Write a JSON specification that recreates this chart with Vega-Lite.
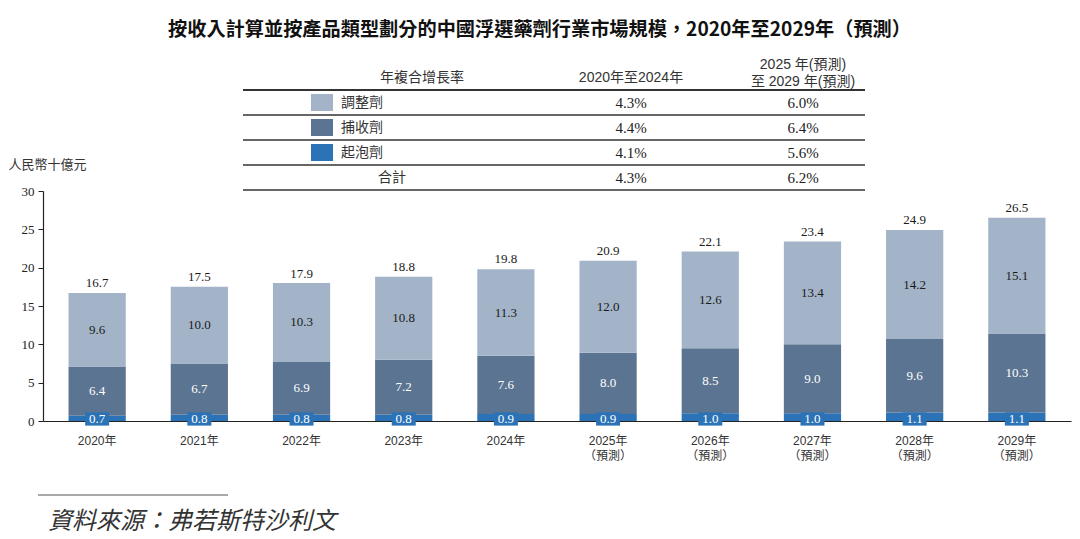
{
  "$schema": "https://vega.github.io/schema/vega-lite/v6.json",
  "background": "white",
  "padding": {"left": 8, "top": 21, "right": 5, "bottom": 0},
  "title": {"text": "按收入計算並按產品類型劃分的中國浮選藥劑行業市場規模，2020年至2029年（預測）", "font": "Noto Sans CJK TC", "fontSize": 19.2, "fontWeight": "bold", "color": "#111111", "anchor": "middle", "offset": 17},
  "config": {"view": {"stroke": null}, "font": "Noto Sans CJK TC"},
  "bounds": "flush",
  "spacing": 1,
  "datasets": {
    "bars": [
      {"year": "2020年", "series": "起泡劑", "value": 0.7}, {"year": "2020年", "series": "捕收劑", "value": 6.4}, {"year": "2020年", "series": "調整劑", "value": 9.6},
      {"year": "2021年", "series": "起泡劑", "value": 0.8}, {"year": "2021年", "series": "捕收劑", "value": 6.7}, {"year": "2021年", "series": "調整劑", "value": 10.0},
      {"year": "2022年", "series": "起泡劑", "value": 0.8}, {"year": "2022年", "series": "捕收劑", "value": 6.9}, {"year": "2022年", "series": "調整劑", "value": 10.3},
      {"year": "2023年", "series": "起泡劑", "value": 0.8}, {"year": "2023年", "series": "捕收劑", "value": 7.2}, {"year": "2023年", "series": "調整劑", "value": 10.8},
      {"year": "2024年", "series": "起泡劑", "value": 0.9}, {"year": "2024年", "series": "捕收劑", "value": 7.6}, {"year": "2024年", "series": "調整劑", "value": 11.3},
      {"year": "2025年（預測）", "series": "起泡劑", "value": 0.9}, {"year": "2025年（預測）", "series": "捕收劑", "value": 8.0}, {"year": "2025年（預測）", "series": "調整劑", "value": 12.0},
      {"year": "2026年（預測）", "series": "起泡劑", "value": 1.0}, {"year": "2026年（預測）", "series": "捕收劑", "value": 8.5}, {"year": "2026年（預測）", "series": "調整劑", "value": 12.6},
      {"year": "2027年（預測）", "series": "起泡劑", "value": 1.0}, {"year": "2027年（預測）", "series": "捕收劑", "value": 9.0}, {"year": "2027年（預測）", "series": "調整劑", "value": 13.4},
      {"year": "2028年（預測）", "series": "起泡劑", "value": 1.1}, {"year": "2028年（預測）", "series": "捕收劑", "value": 9.6}, {"year": "2028年（預測）", "series": "調整劑", "value": 14.2},
      {"year": "2029年（預測）", "series": "起泡劑", "value": 1.1}, {"year": "2029年（預測）", "series": "捕收劑", "value": 10.3}, {"year": "2029年（預測）", "series": "調整劑", "value": 15.1}
    ],
    "totals": [
      {"year": "2020年", "total": 16.7}, {"year": "2021年", "total": 17.5}, {"year": "2022年", "total": 17.9},
      {"year": "2023年", "total": 18.8}, {"year": "2024年", "total": 19.8}, {"year": "2025年（預測）", "total": 20.9},
      {"year": "2026年（預測）", "total": 22.1}, {"year": "2027年（預測）", "total": 23.4}, {"year": "2028年（預測）", "total": 24.9},
      {"year": "2029年（預測）", "total": 26.5}
    ],
    "cagr": [
      {"row": "調整劑", "p1": "4.3%", "p2": "6.0%"},
      {"row": "捕收劑", "p1": "4.4%", "p2": "6.4%"},
      {"row": "起泡劑", "p1": "4.1%", "p2": "5.6%"},
      {"row": "合計", "p1": "4.3%", "p2": "6.2%"}
    ],
    "rows": [{"row": "hdr"}, {"row": "調整劑"}, {"row": "捕收劑"}, {"row": "起泡劑"}, {"row": "合計"}]
  },
  "vconcat": [
    {
      "width": 1028,
      "height": 125,
      "encoding": {
        "y": {"field": "row", "type": "nominal", "scale": {"domain": ["hdr", "調整劑", "捕收劑", "起泡劑", "合計"], "paddingInner": 0, "paddingOuter": 0}, "axis": null}
      },
      "layer": [
        {
          "data": {"name": "rows"},
          "mark": {"type": "rule", "color": "#333333"},
          "encoding": {
            "y": {"field": "row", "type": "nominal", "bandPosition": 1},
            "x": {"datum": 200, "type": "quantitative", "scale": {"domain": [0, 1028], "nice": false, "zero": false}, "axis": null},
            "x2": {"datum": 822},
            "strokeWidth": {"condition": {"test": "datum.row === 'hdr'", "value": 2}, "value": 1.5}
          }
        },
        {
          "data": {"name": "cagr"},
          "transform": [{"filter": "datum.row !== '合計'"}],
          "mark": {"type": "bar", "height": {"band": 0.68}},
          "encoding": {
            "x": {"datum": 268, "type": "quantitative", "scale": {"domain": [0, 1028], "nice": false, "zero": false}, "axis": null},
            "x2": {"datum": 290},
            "color": {"field": "row", "type": "nominal", "scale": {"domain": ["起泡劑", "捕收劑", "調整劑"], "range": ["#2B72B6", "#5B7491", "#A3B4C8"]}, "legend": null}
          }
        },
        {
          "data": {"name": "cagr"},
          "transform": [{"filter": "datum.row !== '合計'"}],
          "mark": {"type": "text", "align": "left", "baseline": "middle", "fontSize": 14, "color": "#333333", "font": "Noto Sans CJK TC"},
          "encoding": {
            "x": {"datum": 298, "type": "quantitative", "scale": {"domain": [0, 1028], "nice": false, "zero": false}, "axis": null},
            "text": {"field": "row"}
          }
        },
        {
          "data": {"name": "cagr"},
          "transform": [{"filter": "datum.row === '合計'"}],
          "mark": {"type": "text", "align": "center", "baseline": "middle", "fontSize": 14, "color": "#333333", "font": "Noto Sans CJK TC"},
          "encoding": {
            "x": {"datum": 349, "type": "quantitative", "scale": {"domain": [0, 1028], "nice": false, "zero": false}, "axis": null},
            "text": {"field": "row"}
          }
        },
        {
          "data": {"name": "cagr"},
          "mark": {"type": "text", "align": "center", "baseline": "middle", "fontSize": 15, "color": "#222222", "font": "Liberation Serif"},
          "encoding": {
            "x": {"datum": 588, "type": "quantitative", "scale": {"domain": [0, 1028], "nice": false, "zero": false}, "axis": null},
            "text": {"field": "p1"}
          }
        },
        {
          "data": {"name": "cagr"},
          "mark": {"type": "text", "align": "center", "baseline": "middle", "fontSize": 15, "color": "#222222", "font": "Liberation Serif"},
          "encoding": {
            "x": {"datum": 760, "type": "quantitative", "scale": {"domain": [0, 1028], "nice": false, "zero": false}, "axis": null},
            "text": {"field": "p2"}
          }
        },
        {
          "data": {"values": [{"row": "hdr", "label": "年複合增長率"}]},
          "mark": {"type": "text", "align": "center", "baseline": "middle", "fontSize": 14, "color": "#333333", "font": "Noto Sans CJK TC"},
          "encoding": {
            "x": {"datum": 379, "type": "quantitative", "scale": {"domain": [0, 1028], "nice": false, "zero": false}, "axis": null},
            "text": {"field": "label"}
          }
        },
        {
          "data": {"values": [{"row": "hdr", "label": "2020年至2024年"}]},
          "mark": {"type": "text", "align": "center", "baseline": "middle", "fontSize": 14, "color": "#333333", "font": "Liberation Sans, Noto Sans CJK TC"},
          "encoding": {
            "x": {"datum": 588, "type": "quantitative", "scale": {"domain": [0, 1028], "nice": false, "zero": false}, "axis": null},
            "text": {"field": "label"}
          }
        },
        {
          "data": {"values": [{"row": "hdr", "label": "2025 年(預測)\n至 2029 年(預測)"}]},
          "mark": {"type": "text", "align": "center", "baseline": "middle", "fontSize": 14, "color": "#333333", "font": "Liberation Sans, Noto Sans CJK TC", "lineBreak": "\n", "lineHeight": 17, "dy": -13},
          "encoding": {
            "x": {"datum": 760, "type": "quantitative", "scale": {"domain": [0, 1028], "nice": false, "zero": false}, "axis": null},
            "text": {"field": "label"}
          }
        }
      ]
    },
    {
      "width": 1028,
      "height": 230,
      "data": {"name": "bars"},
      "encoding": {
        "x": {
          "field": "year", "type": "nominal", "sort": null,
          "scale": {"paddingInner": 0.44, "paddingOuter": 0.25},
          "axis": {
            "title": null, "labelAngle": 0, "ticks": false, "labelPadding": 14,
            "labelExpr": "indexof(datum.label, '（') > 0 ? [slice(datum.label, 0, 5), slice(datum.label, 5)] : datum.label",
            "labelFont": "Liberation Sans, Noto Sans CJK TC", "labelFontSize": 12, "labelColor": "#333333",
            "labelLineHeight": 15, "domainColor": "#222222", "domainWidth": 1.2
          }
        }
      },
      "layer": [
        {
          "transform": [
            {"calculate": "indexof(['起泡劑', '捕收劑', '調整劑'], datum.series)", "as": "ord"}
          ],
          "mark": {"type": "bar"},
          "encoding": {
            "y": {
              "field": "value", "type": "quantitative", "stack": "zero",
              "scale": {"domain": [0, 30], "nice": false},
              "axis": {
                "title": "人民幣十億元", "titleAngle": 0, "titleAlign": "left", "titleBaseline": "middle",
                "titleX": -35, "titleY": -27, "titleFontSize": 13, "titleFontWeight": "normal", "titleColor": "#333333",
                "titleFont": "Noto Sans CJK TC",
                "values": [0, 5, 10, 15, 20, 25, 30], "grid": false,
                "labelFont": "Liberation Serif", "labelFontSize": 13, "labelColor": "#222222",
                "tickColor": "#222222", "domainColor": "#222222", "tickSize": 5, "labelPadding": 4, "domainWidth": 1.2
              }
            },
            "order": {"field": "ord", "type": "quantitative"},
            "color": {
              "field": "series", "type": "nominal",
              "scale": {"domain": ["起泡劑", "捕收劑", "調整劑"], "range": ["#2B72B6", "#5B7491", "#A3B4C8"]},
              "legend": null
            }
          }
        },
        {
          "transform": [
            {"calculate": "indexof(['起泡劑', '捕收劑', '調整劑'], datum.series)", "as": "ord"},
            {"stack": "value", "groupby": ["year"], "sort": [{"field": "ord"}], "as": ["v0", "v1"]},
            {"calculate": "(datum.v0 + datum.v1) / 2", "as": "mid"},
            {"filter": "datum.series !== '起泡劑'"}
          ],
          "mark": {"type": "text", "baseline": "middle", "fontSize": 13, "font": "Liberation Serif"},
          "encoding": {
            "y": {
              "field": "mid", "type": "quantitative",
              "axis": {
                "title": "人民幣十億元", "titleAngle": 0, "titleAlign": "left", "titleBaseline": "middle",
                "titleX": -35, "titleY": -27, "titleFontSize": 13, "titleFontWeight": "normal", "titleColor": "#333333",
                "titleFont": "Noto Sans CJK TC",
                "values": [0, 5, 10, 15, 20, 25, 30], "grid": false,
                "labelFont": "Liberation Serif", "labelFontSize": 13, "labelColor": "#222222",
                "tickColor": "#222222", "domainColor": "#222222", "tickSize": 5, "labelPadding": 4, "domainWidth": 1.2
              }
            },
            "text": {"field": "value", "format": ".1f"},
            "color": {"condition": {"test": "datum.series === '調整劑'", "value": "#1a1a1a"}, "value": "#ffffff"}
          }
        },
        {
          "transform": [{"filter": "datum.series === '起泡劑'"}],
          "mark": {"type": "point", "shape": "M-1,-0.55L1,-0.55L1,0.55L-1,0.55Z", "filled": true, "size": 576, "opacity": 1, "color": "#2B72B6", "strokeWidth": 0, "yOffset": -2},
          "encoding": {
            "y": {
              "datum": 0, "type": "quantitative",
              "axis": {
                "title": "人民幣十億元", "titleAngle": 0, "titleAlign": "left", "titleBaseline": "middle",
                "titleX": -35, "titleY": -27, "titleFontSize": 13, "titleFontWeight": "normal", "titleColor": "#333333",
                "titleFont": "Noto Sans CJK TC",
                "values": [0, 5, 10, 15, 20, 25, 30], "grid": false,
                "labelFont": "Liberation Serif", "labelFontSize": 13, "labelColor": "#222222",
                "tickColor": "#222222", "domainColor": "#222222", "tickSize": 5, "labelPadding": 4, "domainWidth": 1.2
              }
            }
          }
        },
        {
          "transform": [{"filter": "datum.series === '起泡劑'"}],
          "mark": {"type": "text", "baseline": "middle", "fontSize": 13, "font": "Liberation Serif", "color": "#ffffff", "dy": -2},
          "encoding": {
            "y": {
              "datum": 0, "type": "quantitative",
              "axis": {
                "title": "人民幣十億元", "titleAngle": 0, "titleAlign": "left", "titleBaseline": "middle",
                "titleX": -35, "titleY": -27, "titleFontSize": 13, "titleFontWeight": "normal", "titleColor": "#333333",
                "titleFont": "Noto Sans CJK TC",
                "values": [0, 5, 10, 15, 20, 25, 30], "grid": false,
                "labelFont": "Liberation Serif", "labelFontSize": 13, "labelColor": "#222222",
                "tickColor": "#222222", "domainColor": "#222222", "tickSize": 5, "labelPadding": 4, "domainWidth": 1.2
              }
            },
            "text": {"field": "value", "format": ".1f"}
          }
        },
        {
          "data": {"name": "totals"},
          "mark": {"type": "text", "baseline": "bottom", "fontSize": 13, "font": "Liberation Serif", "color": "#1a1a1a", "dy": -3},
          "encoding": {
            "y": {
              "field": "total", "type": "quantitative",
              "axis": {
                "title": "人民幣十億元", "titleAngle": 0, "titleAlign": "left", "titleBaseline": "middle",
                "titleX": -35, "titleY": -27, "titleFontSize": 13, "titleFontWeight": "normal", "titleColor": "#333333",
                "titleFont": "Noto Sans CJK TC",
                "values": [0, 5, 10, 15, 20, 25, 30], "grid": false,
                "labelFont": "Liberation Serif", "labelFontSize": 13, "labelColor": "#222222",
                "tickColor": "#222222", "domainColor": "#222222", "tickSize": 5, "labelPadding": 4, "domainWidth": 1.2
              }
            },
            "text": {"field": "total", "format": ".1f"}
          }
        }
      ]
    },
    {
      "width": 190,
      "height": 114,
      "data": {"values": [{"src": "資料來源：弗若斯特沙利文"}]},
      "layer": [
        {
          "mark": {"type": "rule", "color": "#555555", "strokeWidth": 1.2},
          "encoding": {
            "x": {"datum": -5, "type": "quantitative", "scale": {"domain": [0, 190], "nice": false, "zero": false}, "axis": null},
            "x2": {"datum": 185},
            "y": {"datum": 73, "type": "quantitative", "scale": {"domain": [0, 114], "reverse": true, "nice": false}, "axis": null}
          }
        },
        {
          "mark": {"type": "text", "align": "left", "baseline": "middle", "fontStyle": "italic", "fontSize": 24, "color": "#333333", "font": "Noto Sans CJK TC"},
          "encoding": {
            "x": {"datum": 5, "type": "quantitative", "scale": {"domain": [0, 190], "nice": false, "zero": false}, "axis": null},
            "y": {"datum": 100, "type": "quantitative", "scale": {"domain": [0, 114], "reverse": true, "nice": false}, "axis": null},
            "text": {"field": "src"}
          }
        }
      ]
    }
  ]
}
